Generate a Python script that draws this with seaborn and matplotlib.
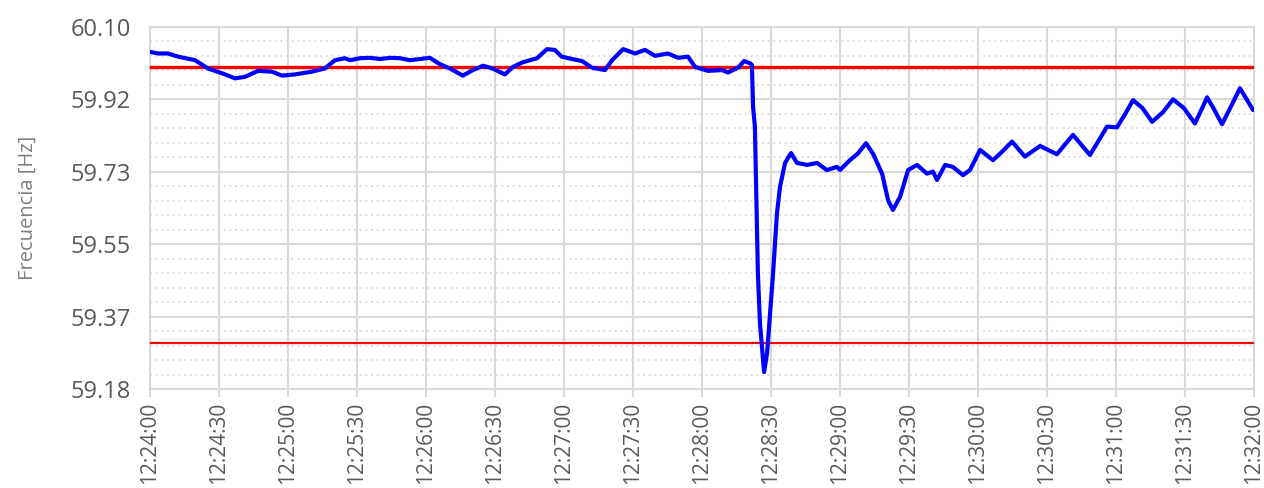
"""Frecuencia del sistema durante el evento de 12:24 a 12:32"""

import numpy as np
import pandas as pd
import seaborn as sns
import matplotlib.dates as mdates
from matplotlib import pyplot as plt
from matplotlib.ticker import FixedLocator, FormatStrFormatter


start = "2024-01-01 12:24:00"

# seconds after 12:24:00
seconds = [
    0, 3.5, 7.8, 12.2, 19.6, 25.2, 31.3, 37, 41.3, 47, 53, 57.4, 63, 70.4, 76, 80.4, 84.8,
    87, 91.3, 95.7, 100, 104.3, 108.7, 113, 117.4, 121.7, 126, 130.4, 136, 140.4, 144.8,
    149, 154.3, 157.8, 162.2, 168.3, 172.6, 176, 179, 183.5, 187.8, 192.2, 197.8, 200.9,
    205.7, 210.9, 215.2, 219.6, 225.2, 229.6, 233.9, 237, 242.6, 248.7, 251.3, 255.7,
    258.3, 260.9, 261.7, 262.2, 263, 264.3, 265.2, 267, 268.3, 269.6, 270.9, 272.6, 273.9,
    276.1, 278.7, 281.3, 285.7, 290, 294.3, 298.7, 300, 304.3, 307.8, 311.3, 314.3, 318.3,
    320.9, 323, 326.1, 329.6, 333.5, 337.8, 340.4, 342.2, 345.7, 349.1, 353.5, 356.5,
    360.9, 366.5, 370.4, 374.8, 380.4, 387, 394.3, 401.3, 408.7, 416.1, 420.4, 424.5,
    427.4, 431.5, 435.7, 440.5, 444.8, 449.5, 454.3, 457.5, 459.6, 462.8, 466.1, 470.5,
    473.9, 479.6,
]

freq = [
    60.037, 60.033, 60.033, 60.025, 60.016, 59.995, 59.983, 59.970, 59.974, 59.989, 59.987,
    59.977, 59.980, 59.987, 59.995, 60.016, 60.021,
    60.016, 60.021, 60.022, 60.019, 60.022, 60.021, 60.016, 60.019, 60.022, 60.006, 59.995,
    59.977, 59.991, 60.002, 59.995, 59.980, 59.999, 60.011, 60.021, 60.044, 60.042, 60.025,
    60.019, 60.014, 59.997, 59.991, 60.016, 60.044, 60.033, 60.042, 60.027, 60.033, 60.022,
    60.025, 59.999, 59.989, 59.991, 59.985, 59.997, 60.014, 60.008, 60.004, 59.898, 59.848,
    59.477, 59.350, 59.227, 59.275, 59.376, 59.477, 59.629, 59.695, 59.756, 59.781, 59.756,
    59.751, 59.756, 59.738, 59.746, 59.738, 59.763, 59.780, 59.806, 59.780, 59.729, 59.662,
    59.637, 59.670, 59.738, 59.751, 59.729, 59.734, 59.713, 59.751, 59.746, 59.725, 59.738,
    59.789, 59.763, 59.784, 59.810, 59.772, 59.799, 59.778, 59.827, 59.776, 59.848, 59.846,
    59.885, 59.915, 59.895, 59.860, 59.885, 59.917, 59.895, 59.856, 59.895, 59.922, 59.890,
    59.854, 59.905, 59.945, 59.890,
]

upper_limit = 60.0
lower_limit = 59.3

y_min, y_max = 59.184, 60.10

df = pd.DataFrame({
    "time": pd.Timestamp(start) + pd.to_timedelta(seconds, unit="s"),
    "freq": freq,
})

sns.set_theme(style="white")
plt.rcParams["font.family"] = ["Open Sans", "DejaVu Sans"]

fig = plt.figure(figsize=(12.64, 4.88), dpi=100)
ax = fig.add_axes([150 / 1264, 1 - 389 / 488, 1104 / 1264, 362 / 488])

grid_color = "#d9d9d9"

ax.axhline(upper_limit, color="#ff0000", lw=2.4, zorder=3)
ax.axhline(lower_limit, color="#ff0000", lw=1.6, zorder=3)

sns.lineplot(data=df, x="time", y="freq", color="#0000ff", lw=3, ax=ax, zorder=4)

ax.set_xlim(pd.Timestamp(start), pd.Timestamp(start) + pd.Timedelta(minutes=8))
ax.set_ylim(y_min, y_max)

major = np.linspace(y_min, y_max, 6)
minor = np.linspace(y_min, y_max, 26)
ax.yaxis.set_major_locator(FixedLocator(major))
ax.yaxis.set_minor_locator(FixedLocator(minor))
ax.yaxis.set_major_formatter(FormatStrFormatter("%.2f"))

ax.xaxis.set_major_locator(mdates.SecondLocator(bysecond=[0, 30]))
ax.xaxis.set_major_formatter(mdates.DateFormatter("%H:%M:%S"))

ax.grid(which="major", color=grid_color, lw=1.5, zorder=0)
ax.grid(which="minor", axis="y", color=grid_color, lw=1.2, linestyle=(0, (1.2, 2.2)), zorder=0)
ax.set_axisbelow(True)

for side in ["left", "bottom", "top", "right"]:
    ax.spines[side].set_color(grid_color)
    ax.spines[side].set_linewidth(1.5)

ax.tick_params(axis="x", which="major", length=6, width=1.5, color=grid_color,
               labelsize=15, labelcolor="#595959", rotation=90, pad=3, bottom=True)
ax.tick_params(axis="y", which="both", length=0, labelsize=17, labelcolor="#595959", pad=14)

ax.set_xlabel("")
ax.set_ylabel("Frecuencia [Hz]", fontsize=14.5, color="#7f7f7f")
ax.yaxis.set_label_coords(-0.102, 0.5)

fig.savefig("out.png", dpi=100)
